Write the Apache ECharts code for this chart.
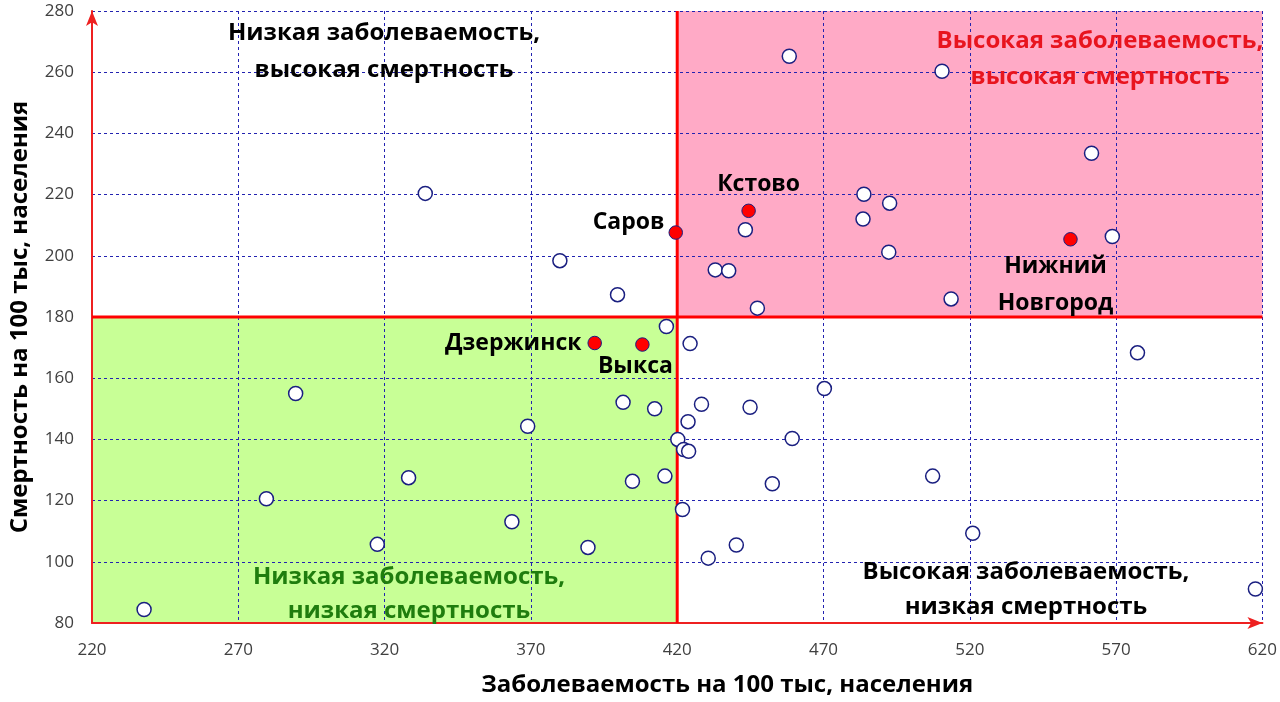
<!DOCTYPE html>
<html><head><meta charset="utf-8">
<script src="https://cdn.jsdelivr.net/npm/echarts@6/dist/echarts.min.js"></script>
<style>html,body{margin:0;padding:0;background:#fff}#c{width:1280px;height:702px}</style>
</head><body><div id="c"></div>
<script>
// ---- data ----
const xMin = 220, xMax = 620, xStep = 50;
const yMin = 80, yMax = 280, yStep = 20;
const thresholdIncidence = 420;
const thresholdMortality = 180;

const incidence = [237.8, 279.6, 289.6, 317.5, 328.2, 333.9, 363.5, 368.9, 379.9, 389.5,
  399.6, 401.5, 404.7, 412.3, 415.8, 416.3, 420.2, 421.8, 422.2, 423.9,
  423.7, 424.4, 428.3, 430.6, 433.0, 437.6, 440.2, 443.3, 444.9, 447.4,
  452.5, 458.3, 459.3, 470.3, 483.5, 483.8, 492.3, 492.6, 507.3, 510.5,
  513.6, 521.0, 561.6, 568.7, 577.3, 617.6];
const mortality = [84.4, 120.6, 155.0, 105.7, 127.5, 220.4, 113.1, 144.3, 198.4, 104.7,
  187.3, 152.1, 126.3, 150.0, 128.0, 176.9, 140.0, 117.1, 136.7, 136.1,
  145.8, 171.3, 151.5, 101.2, 195.4, 195.1, 105.5, 208.5, 150.5, 182.9,
  125.5, 265.2, 140.3, 156.6, 212.0, 220.1, 201.2, 217.2, 128.0, 260.3,
  185.9, 109.3, 233.5, 206.3, 168.3, 91.1];

const cityNames = ['Саров', 'Кстово', 'Дзержинск', 'Выкса', 'Нижний\nНовгород'];
const cityIncidence = [419.5, 444.4, 391.8, 408.1, 554.4];
const cityMortality = [207.6, 214.7, 171.5, 171.0, 205.4];

const xAxisName = 'Заболеваемость на 100 тыс, населения';
const yAxisName = 'Смертность на 100 тыс, населения';
const quadrantTexts = [
  'Низкая заболеваемость,\nвысокая смертность',
  'Высокая заболеваемость,\nвысокая смертность',
  'Низкая заболеваемость,\nнизкая смертность',
  'Высокая заболеваемость,\nнизкая смертность'
];

// ---- styles ----
const FONT = '"Open Sans", "Noto Sans", sans-serif';
const gridColor = '#2222b0';
const cityLabelStyle = {
  'Саров': { position: 'left', distance: 4, offset: [0, -10] },
  'Кстово': { position: 'inside', offset: [10, -26] },
  'Дзержинск': { position: 'left', distance: 6, offset: [0, 0] },
  'Выкса': { position: 'inside', offset: [-7, 22] },
  'Нижний\nНовгород': { position: 'inside', offset: [-15, 46] }
};

const chart = echarts.init(document.getElementById('c'), null, { renderer: 'canvas' });

const axisCommon = {
  type: 'value',
  z: 2,
  nameLocation: 'middle',
  axisTick: { show: false },
  axisLabel: { fontFamily: FONT, fontSize: 17, color: '#404040' },
  splitLine: { show: true, lineStyle: { color: gridColor, type: [3, 3], width: 1 } },
  axisLine: { show: true, onZero: false, symbol: ['none', 'arrow'], symbolSize: [9, 15],
    lineStyle: { color: '#ee2020', width: 2 } }
};

const option = {
  backgroundColor: '#ffffff',
  animation: false,
  grid: { left: 91, right: 16, top: 11, bottom: 78 },
  xAxis: Object.assign({}, axisCommon, {
    min: xMin, max: xMax, interval: xStep, name: xAxisName, nameGap: 50,
    nameTextStyle: { fontFamily: FONT, fontWeight: 'bold', fontSize: 24, color: '#000', padding: [0, 0, 0, 100] },
    axisLabel: Object.assign({}, axisCommon.axisLabel, { margin: 19 })
  }),
  yAxis: Object.assign({}, axisCommon, {
    min: yMin, max: yMax, interval: yStep, name: yAxisName, nameGap: 60,
    nameTextStyle: { fontFamily: FONT, fontWeight: 'bold', fontSize: 24, color: '#000' },
    axisLabel: Object.assign({}, axisCommon.axisLabel, { margin: 18 })
  }),
  graphic: [
    { type: 'text', z: 10, style: { text: quadrantTexts[0], x: 384, y: 52, textAlign: 'center', textVerticalAlign: 'middle', font: 'bold 24px ' + FONT, fill: '#000', lineHeight: 37 } },
    { type: 'text', z: 10, style: { text: quadrantTexts[1], x: 1100, y: 59, textAlign: 'center', textVerticalAlign: 'middle', font: 'bold 24px ' + FONT, fill: '#e8141e', lineHeight: 36 } },
    { type: 'text', z: 10, style: { text: quadrantTexts[2], x: 409, y: 594, textAlign: 'center', textVerticalAlign: 'middle', font: 'bold 24px ' + FONT, fill: '#1f7d0e', lineHeight: 34 } },
    { type: 'text', z: 10, style: { text: quadrantTexts[3], x: 1026, y: 590, textAlign: 'center', textVerticalAlign: 'middle', font: 'bold 24px ' + FONT, fill: '#000', lineHeight: 35 } }
  ],
  series: [
    {
      type: 'scatter', z: 1, data: [], silent: true,
      markArea: {
        z: 1, silent: true,
        data: [
          [{ coord: [xMin, yMin], itemStyle: { color: '#c8ff96' } }, { coord: [thresholdIncidence, thresholdMortality] }],
          [{ coord: [thresholdIncidence, thresholdMortality], itemStyle: { color: '#ffaac6' } }, { coord: [xMax, yMax] }]
        ],
        itemStyle: { opacity: 1 }
      }
    },
    {
      type: 'line', z: 3, symbol: 'none', silent: true,
      data: [[thresholdIncidence, yMin], [thresholdIncidence, yMax]],
      lineStyle: { color: '#ff0000', width: 3 }
    },
    {
      type: 'line', z: 3, symbol: 'none', silent: true,
      data: [[xMin, thresholdMortality], [xMax, thresholdMortality]],
      lineStyle: { color: '#ff0000', width: 3 }
    },
    {
      type: 'scatter', z: 4, symbolSize: 14,
      data: incidence.map((x, i) => [x, mortality[i]]),
      itemStyle: { color: '#ffffff', borderColor: '#1a1f80', borderWidth: 1.5, opacity: 1 }
    },
    {
      type: 'scatter', z: 5, symbolSize: 13.5,
      data: cityNames.map((n, i) => ({
        value: [cityIncidence[i], cityMortality[i]],
        name: n,
        label: Object.assign({
          show: true, formatter: n, color: '#000', fontFamily: FONT, fontWeight: 'bold',
          fontSize: 23, lineHeight: 37, textBorderWidth: 0
        }, cityLabelStyle[n])
      })),
      itemStyle: { color: '#ff0000', borderColor: '#1a1f80', borderWidth: 1, opacity: 1 }
    }
  ]
};
chart.setOption(option);
</script>
</body></html>
